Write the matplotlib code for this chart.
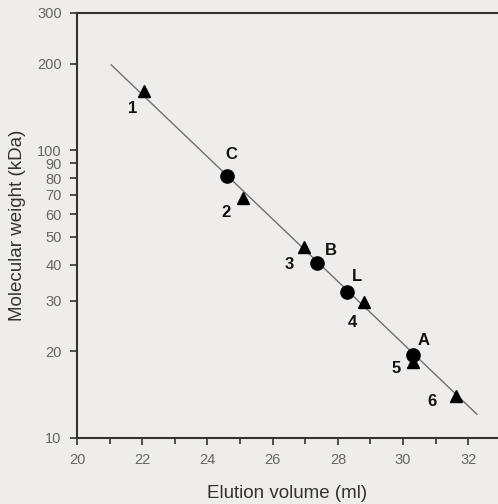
import numpy as np
import matplotlib.pyplot as plt
from matplotlib.ticker import FixedLocator, NullFormatter, MultipleLocator

plt.rcParams['font.family'] = ['Liberation Sans', 'DejaVu Sans']

# standards (triangles)
std_names = ['1', '2', '3', '4', '5', '6']
std_vol = [22.06, 25.10, 26.96, 28.80, 30.30, 31.63]
std_mw = [161, 68.4, 46.1, 29.6, 18.3, 14.0]

# samples (circles)
smp_names = ['C', 'B', 'L', 'A']
smp_vol = [24.59, 27.35, 28.29, 30.30]
smp_mw = [81.5, 40.6, 32.1, 19.4]

# calibration line end points
line_vol = [21.05, 32.26]
line_mw = [198, 12.1]

yticks = [10, 20, 30, 40, 50, 60, 70, 80, 90, 100, 200, 300]

bg = '#efedeb'
fig = plt.figure(figsize=(4.98, 5.04), dpi=100, facecolor=bg)
ax = fig.add_axes([0.1546, 0.131, 0.8454, 0.8433], facecolor=bg)

ax.plot(line_vol, line_mw, color='#707070', lw=1.0)
ax.plot(std_vol, std_mw, '^', color='black', ms=8.5, ls='none')
ax.plot(smp_vol, smp_mw, 'o', color='black', ms=9.5, ls='none')

ax.set_yscale('log')
ax.set_xlim(20, 32.91)
ax.set_ylim(10, 300)

# label offsets in pixels
std_off = [(-12, -18), (-17, -15), (-15, -17), (-12, -20), (-17, -6), (-24, -6)]
smp_off = [(5, 21), (14, 12), (10, 16), (11, 15)]
for n, x, y, o in zip(std_names, std_vol, std_mw, std_off):
    ax.annotate(n, (x, y), xytext=o, textcoords='offset pixels', ha='center', va='center',
                fontsize=12, fontweight='bold', color='#111111')
for n, x, y, o in zip(smp_names, smp_vol, smp_mw, smp_off):
    ax.annotate(n, (x, y), xytext=o, textcoords='offset pixels', ha='center', va='center',
                fontsize=12, fontweight='bold', color='#111111')

ax.yaxis.set_major_locator(FixedLocator(yticks))
ax.yaxis.set_minor_locator(FixedLocator([]))
ax.set_yticklabels([str(t) for t in yticks])
ax.yaxis.set_minor_formatter(NullFormatter())
ax.xaxis.set_major_locator(MultipleLocator(2))
ax.xaxis.set_minor_locator(MultipleLocator(1))

ax.tick_params(axis='both', which='both', direction='out', colors='#333333',
               labelcolor='#666666', labelsize=10.5, width=1.2)
ax.tick_params(axis='both', which='major', length=5, pad=6)
ax.tick_params(axis='x', which='minor', length=4)

for s in ['left', 'bottom', 'top']:
    ax.spines[s].set_color('#333333')
    ax.spines[s].set_linewidth(1.5)
ax.spines['right'].set_visible(False)

ax.set_xlabel('Elution volume (ml)', fontsize=13.5, color='#333333', labelpad=13)
ax.set_ylabel('Molecular weight (kDa)', fontsize=13.5, color='#333333', labelpad=8)

plt.savefig('out.png', dpi=100, facecolor=bg)
